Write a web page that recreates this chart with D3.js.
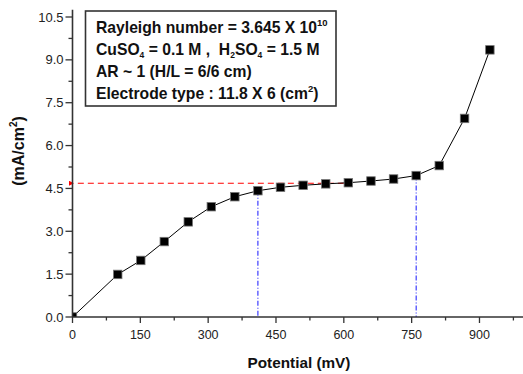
<!DOCTYPE html>
<html>
<head>
<meta charset="utf-8">
<script src="https://cdn.jsdelivr.net/npm/d3@7"></script>
<style>
html,body{margin:0;padding:0;background:#fff;}
svg{display:block;font-family:"Liberation Sans",Arial,sans-serif;}
</style>
</head>
<body>
<svg id="chart" width="523" height="374"></svg>
<script>
// Data
const potential = [0, 100, 151, 203, 256, 307, 359, 410, 460, 510, 560, 610, 660, 710, 760, 811, 867, 923];
const currentDensity = [0, 1.49, 1.98, 2.64, 3.33, 3.86, 4.21, 4.42, 4.54, 4.61, 4.66, 4.70, 4.76, 4.83, 4.95, 5.30, 6.95, 9.35];
const xTicks = [0, 150, 300, 450, 600, 750, 900];
const yTicks = [0.0, 1.5, 3.0, 4.5, 6.0, 7.5, 9.0, 10.5];
const xMinorTicks = [75, 225, 375, 525, 675, 825, 975];
const yMinorTicks = [0.75, 2.25, 3.75, 5.25, 6.75, 8.25, 9.75];
const refLevel = 4.68;      // red dashed level
const refLevelEnd = 600;    // where dashed meets the curve
const vLines = [410, 760];  // blue dash-dot verticals
const vLineTops = [4.42, 4.95];

const svg = d3.select("#chart");
const x = d3.scaleLinear().domain([0, 1000]).range([72.5, 524.7]);
const y = d3.scaleLinear().domain([0, 10.5]).range([317, 17]);
const yTop = 10.75;

// clip for markers
svg.append("defs").append("clipPath").attr("id","plotclip")
  .append("rect").attr("x", x(0)).attr("y", y(yTop)).attr("width", 523 - x(0)).attr("height", y(0) - y(yTop));

svg.select("defs").append("marker").attr("id","arrowL")
  .attr("viewBox","0 0 10 10").attr("refX",0).attr("refY",5)
  .attr("markerWidth",5).attr("markerHeight",5).attr("orient","auto")
  .append("path").attr("d","M10,0 L0,5 L10,10 z").attr("fill","red");

// Reference lines
svg.append("line")
  .attr("x1", x(refLevelEnd)).attr("x2", x(0) + 1.5)
  .attr("y1", y(refLevel)).attr("y2", y(refLevel))
  .attr("stroke", "red").attr("stroke-width", 1.1)
  .attr("stroke-dasharray", "6,4")
  .attr("marker-end", "url(#arrowL)");

vLines.forEach((v, i) => {
  svg.append("line")
    .attr("x1", x(v)).attr("x2", x(v))
    .attr("y1", y(vLineTops[i])).attr("y2", y(0))
    .attr("stroke", "#2a2aff").attr("stroke-width", 1.1)
    .attr("stroke-dasharray", "5,2,1,2");
});

// Data line
const pts = potential.map((p, i) => [p, currentDensity[i]]);
svg.append("path").datum(pts)
  .attr("fill", "none").attr("stroke", "#000").attr("stroke-width", 1)
  .attr("d", d3.line().x(d => x(d[0])).y(d => y(d[1])));

// Markers
const ms = 8.5;
svg.append("g").attr("clip-path", "url(#plotclip)")
  .selectAll("rect").data(pts).enter().append("rect")
  .attr("x", d => x(d[0]) - ms/2).attr("y", d => y(d[1]) - ms/2)
  .attr("width", ms).attr("height", ms)
  .attr("fill", "#000").attr("stroke", "#777").attr("stroke-width", 0.8);

// Axes
const axisColor = "#333";
const xAxis = svg.append("g").attr("transform", `translate(0,${y(0)})`);
xAxis.append("line").attr("x1", x(0)).attr("x2", 523).attr("y1", 0).attr("y2", 0)
  .attr("stroke", axisColor).attr("stroke-width", 1.6);
xAxis.selectAll(".maj").data(xTicks).enter().append("line")
  .attr("x1", d => x(d)).attr("x2", d => x(d)).attr("y1", 0).attr("y2", 6)
  .attr("stroke", axisColor).attr("stroke-width", 1.3);
xAxis.selectAll(".min").data(xMinorTicks).enter().append("line")
  .attr("x1", d => x(d)).attr("x2", d => x(d)).attr("y1", 0).attr("y2", 3.5)
  .attr("stroke", axisColor).attr("stroke-width", 1.3);
xAxis.selectAll("text").data(xTicks).enter().append("text")
  .attr("x", d => x(d)).attr("y", 22).attr("text-anchor", "middle")
  .attr("font-size", 12.5).attr("fill", "#222").text(d => d3.format("d")(d));

const yAxis = svg.append("g").attr("transform", `translate(${x(0)},0)`);
yAxis.append("line").attr("x1", 0).attr("x2", 0).attr("y1", y(yTop)).attr("y2", y(0))
  .attr("stroke", axisColor).attr("stroke-width", 1.6);
yAxis.selectAll(".maj").data(yTicks).enter().append("line")
  .attr("x1", -7).attr("x2", 0).attr("y1", d => y(d)).attr("y2", d => y(d))
  .attr("stroke", axisColor).attr("stroke-width", 1.3);
yAxis.selectAll(".min").data(yMinorTicks).enter().append("line")
  .attr("x1", -4).attr("x2", 0).attr("y1", d => y(d)).attr("y2", d => y(d))
  .attr("stroke", axisColor).attr("stroke-width", 1.3);
yAxis.selectAll("text").data(yTicks).enter().append("text")
  .attr("x", -9).attr("y", d => y(d) + 4.5).attr("text-anchor", "end")
  .attr("font-size", 13).attr("fill", "#222").text(d => d3.format(".1f")(d));

// Axis titles
svg.append("text").attr("x", 299).attr("y", 368).attr("text-anchor", "middle")
  .attr("font-size", 15.3).attr("font-weight", "bold").attr("fill", "#111")
  .text("Potential (mV)");

const yl = svg.append("text").attr("transform", "translate(24,151) rotate(-90)")
  .attr("text-anchor", "middle").attr("font-size", 16).attr("font-weight", "bold").attr("fill", "#111");
yl.append("tspan").text("(mA/cm");
yl.append("tspan").attr("font-size", 10).attr("dy", -7).text("2");
yl.append("tspan").attr("dy", 7).text(")");

// Legend / annotation box
svg.append("rect").attr("x", 85.5).attr("y", 11).attr("width", 250.5).attr("height", 95)
  .attr("fill", "#fff").attr("stroke", "#333").attr("stroke-width", 1.6);

const fs = 15.7;
const lg = svg.append("g").attr("font-size", fs).attr("font-weight", "bold").attr("fill", "#111");
const l1 = lg.append("text").attr("x", 96).attr("y", 33.3);
l1.append("tspan").text("Rayleigh number = 3.645 X 10");
l1.append("tspan").attr("font-size", 9.5).attr("dy", -7).text("10");

const l2 = lg.append("text").attr("x", 96).attr("y", 54.5);
l2.append("tspan").text("CuSO");
l2.append("tspan").attr("font-size", 8.5).attr("dy", 3).text("4");
l2.append("tspan").attr("dy", -3).text(" = 0.1 M ,\u00a0\u00a0H");
l2.append("tspan").attr("font-size", 8.5).attr("dy", 3).text("2");
l2.append("tspan").attr("dy", -3).text("SO");
l2.append("tspan").attr("font-size", 8.5).attr("dy", 3).text("4");
l2.append("tspan").attr("dy", -3).text(" = 1.5 M");

lg.append("text").attr("x", 96).attr("y", 77).text("AR ~ 1 (H/L = 6/6 cm)");

const l4 = lg.append("text").attr("x", 96).attr("y", 98.7);
l4.append("tspan").text("Electrode type : 11.8 X 6 (cm");
l4.append("tspan").attr("font-size", 9.5).attr("dy", -7).text("2");
l4.append("tspan").attr("dy", 7).text(")");
</script>
</body>
</html>
